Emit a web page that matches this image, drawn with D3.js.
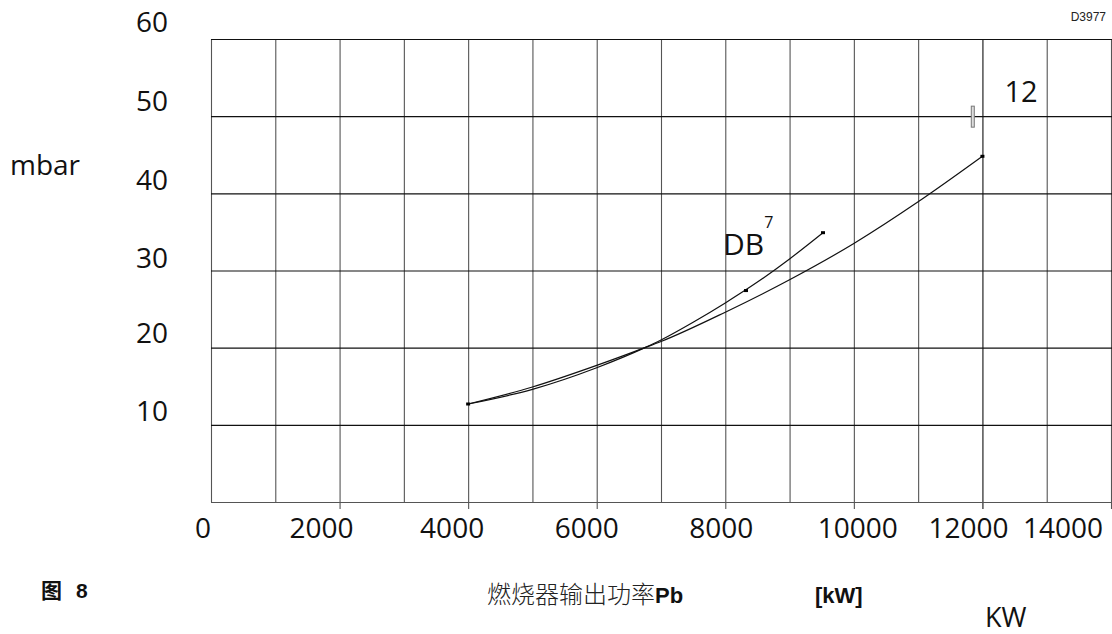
<!DOCTYPE html>
<html>
<head>
<meta charset="utf-8">
<script src="https://cdn.jsdelivr.net/npm/d3@7"></script>
<style>
  html, body { margin: 0; padding: 0; background: #fff; }
  svg { display: block; }
  .num { font-family: "Open Sans", "Noto Sans", sans-serif; fill: #111; }
</style>
</head>
<body>
<svg id="chart" width="1112" height="634"></svg>
<script>
// Burner output (kW) versus pressure (mbar)
const xTicks = [0, 2000, 4000, 6000, 8000, 10000, 12000, 14000];
const yTicks = [10, 20, 30, 40, 50, 60];

// curve "12"
const powerA    = [4000, 5000, 6000, 6750, 7000, 8000, 9000, 10000, 11000, 12000];
const pressureA = [12.7, 14.9, 17.7, 20.0, 20.8, 24.6, 28.8, 33.5, 38.9, 44.8];

// curve "DB7"
const powerB    = [4000, 5000, 6000, 6750, 7000, 7500, 8000, 8500, 9000, 9520];
const pressureB = [12.7, 14.6, 17.4, 20.0, 21.0, 23.3, 25.8, 28.5, 31.5, 34.9];

// measured points marked on the curves
const markPower    = [4000, 8322, 9520, 12000];
const markPressure = [12.7, 27.4, 34.9, 44.8];

// small label nudges for the tick texts (px)
const xLabelShift = [-8, -18, -16, -10, -4, 4, -14, -48];
const yLabelShift = [-4, -5, -3, -3, -5, -7];

const svg = d3.select("#chart");
svg.append("rect").attr("width", 1112).attr("height", 634).attr("fill", "#fff");

const x = d3.scaleLinear().domain([0, 14000]).range([211, 1111]);
const y = d3.scaleLinear().domain([0, 60]).range([502, 39]);

// vertical grid, one line per 1000 kW
const vLines = d3.range(0, 14001, 1000);
svg.append("g").selectAll("line").data(vLines).join("line")
  .attr("x1", d => x(d) + 0.5).attr("x2", d => x(d) + 0.5)
  .attr("y1", y(60)).attr("y2", d => d % 2000 === 0 && d > 0 ? y(0) + 7 : y(0))
  .attr("stroke", d => d === 12000 ? "#111" : "#555")
  .attr("stroke-width", 1.1);

// horizontal grid
svg.append("g").selectAll("line").data([0].concat(yTicks)).join("line")
  .attr("x1", x(0)).attr("x2", 1112)
  .attr("y1", d => y(d) + 0.5).attr("y2", d => y(d) + 0.5)
  .attr("stroke", d => d === 0 ? "#555" : "#111")
  .attr("stroke-width", 1.1);

// x tick labels
svg.append("g").selectAll("text").data(xTicks).join("text")
  .attr("class", "num")
  .attr("x", (d, i) => x(d) + xLabelShift[i])
  .attr("y", 538)
  .attr("text-anchor", "middle")
  .attr("font-size", 28)
  .text(d => d);

// y tick labels
svg.append("g").selectAll("text").data(yTicks).join("text")
  .attr("class", "num")
  .attr("x", 152)
  .attr("y", (d, i) => y(d) + yLabelShift[i])
  .attr("text-anchor", "middle")
  .attr("font-size", 28)
  .text(d => d);

// curves
const line = d3.line().curve(d3.curveMonotoneX);
const ptsA = powerA.map((p, i) => [x(p), y(pressureA[i])]);
const ptsB = powerB.map((p, i) => [x(p), y(pressureB[i])]);
svg.append("path").attr("d", line(ptsA)).attr("fill", "none")
  .attr("stroke", "#111").attr("stroke-width", 1.2);
svg.append("path").attr("d", line(ptsB)).attr("fill", "none")
  .attr("stroke", "#111").attr("stroke-width", 1.2);

// point marks
svg.append("g").selectAll("rect").data(markPower).join("rect")
  .attr("x", d => x(d) - 2).attr("y", (d, i) => y(markPressure[i]) - 1.5)
  .attr("width", 4).attr("height", 3).attr("fill", "#000");

// small grey bar beside label 12
svg.append("rect")
  .attr("x", x(11850) - 1.5).attr("y", y(50) - 10)
  .attr("width", 3).attr("height", 21)
  .attr("fill", "#ddd").attr("stroke", "#777").attr("stroke-width", 1);

// curve labels
svg.append("text").attr("class", "num")
  .attr("x", x(12600)).attr("y", 102)
  .attr("text-anchor", "middle").attr("font-size", 29).text("12");

const dbLabel = svg.append("text").attr("class", "num")
  .attr("x", x(7965)).attr("y", 255).attr("font-size", 30);
dbLabel.append("tspan").text("DB");
dbLabel.append("tspan").attr("dx", 0).attr("dy", -27)
  .attr("font-size", 16).text("7");

// axis unit texts
svg.append("text").attr("class", "num")
  .attr("x", 10).attr("y", 175).attr("font-size", 28).text("mbar");
svg.append("text").attr("class", "num")
  .attr("x", 985).attr("y", 627).attr("font-size", 27).text("KW");

svg.append("text")
  .attr("x", 1106).attr("y", 21).attr("text-anchor", "end")
  .attr("font-family", "Liberation Sans, Arial, sans-serif")
  .attr("font-size", 12).attr("fill", "#222").text("D3977");

// figure number
svg.append("text")
  .attr("x", 41).attr("y", 598)
  .attr("font-family", "'Noto Sans CJK SC', sans-serif")
  .attr("font-weight", 700).attr("font-size", 21).attr("fill", "#111").text("图");
svg.append("text")
  .attr("x", 76).attr("y", 598)
  .attr("font-family", "Liberation Sans, Arial, sans-serif")
  .attr("font-weight", 700).attr("font-size", 21).attr("fill", "#111").text("8");

// x axis title
const title = svg.append("text").attr("x", 487).attr("y", 603).attr("fill", "#222");
title.append("tspan")
  .attr("font-family", "'Noto Sans CJK SC', sans-serif")
  .attr("font-size", 24).attr("font-weight", 300).text("燃烧器输出功率");
title.append("tspan")
  .attr("font-family", "Liberation Sans, Arial, sans-serif")
  .attr("font-size", 22).attr("font-weight", 700).attr("fill", "#111").text("Pb");
svg.append("text")
  .attr("x", 815).attr("y", 603)
  .attr("font-family", "Liberation Sans, Arial, sans-serif")
  .attr("font-size", 22).attr("font-weight", 700).attr("fill", "#111").text("[kW]");
</script>
</body>
</html>
